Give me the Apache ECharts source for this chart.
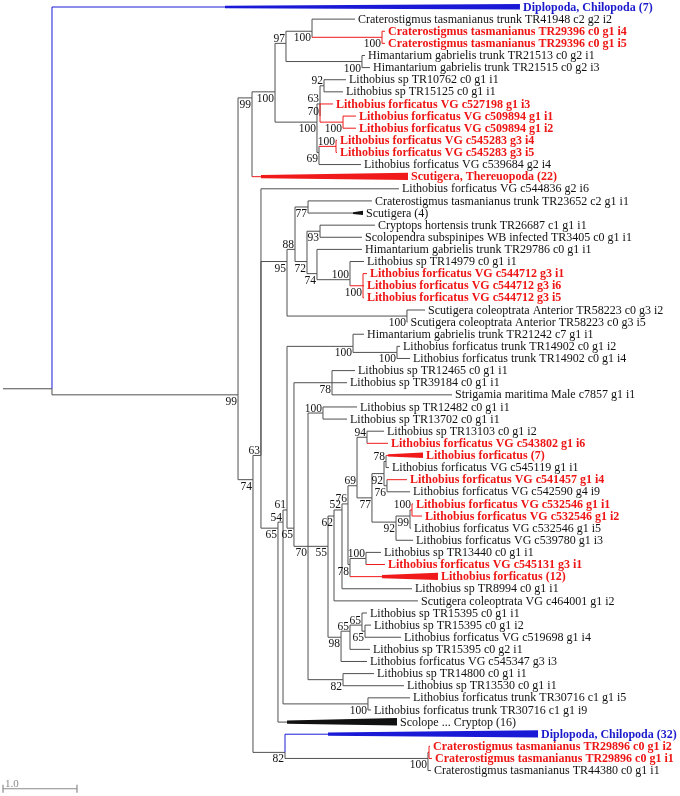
<!DOCTYPE html>
<html><head><meta charset="utf-8">
<script src="https://cdn.jsdelivr.net/npm/echarts@6/dist/echarts.min.js"></script>
<style>html,body{margin:0;padding:0;background:#fff}#c{width:680px;height:796px}</style>
</head><body><div id="c"></div>
<script>
// ---------------- DATA ----------------
const leafNames = [
'Diplopoda, Chilopoda (7)',
'Craterostigmus tasmanianus trunk TR41948 c2 g2 i2',
'Craterostigmus tasmanianus TR29396 c0 g1 i4',
'Craterostigmus tasmanianus TR29396 c0 g1 i5',
'Himantarium gabrielis trunk TR21513 c0 g2 i1',
'Himantarium gabrielis trunk TR21515 c0 g2 i3',
'Lithobius sp TR10762 c0 g1 i1',
'Lithobius sp TR15125 c0 g1 i1',
'Lithobius forficatus VG c527198 g1 i3',
'Lithobius forficatus VG c509894 g1 i1',
'Lithobius forficatus VG c509894 g1 i2',
'Lithobius forficatus VG c545283 g3 i4',
'Lithobius forficatus VG c545283 g3 i5',
'Lithobius forficatus VG c539684 g2 i4',
'Scutigera, Thereuopoda (22)',
'Lithobius forficatus VG c544836 g2 i6',
'Craterostigmus tasmanianus trunk TR23652 c2 g1 i1',
'Scutigera (4)',
'Cryptops hortensis trunk TR26687 c1 g1 i1',
'Scolopendra subspinipes WB infected TR3405 c0 g1 i1',
'Himantarium gabrielis trunk TR29786 c0 g1 i1',
'Lithobius sp TR14979 c0 g1 i1',
'Lithobius forficatus VG c544712 g3 i1',
'Lithobius forficatus VG c544712 g3 i6',
'Lithobius forficatus VG c544712 g3 i5',
'Scutigera coleoptrata Anterior TR58223 c0 g3 i2',
'Scutigera coleoptrata Anterior TR58223 c0 g3 i5',
'Himantarium gabrielis trunk TR21242 c7 g1 i1',
'Lithobius forficatus trunk TR14902 c0 g1 i2',
'Lithobius forficatus trunk TR14902 c0 g1 i4',
'Lithobius sp TR12465 c0 g1 i1',
'Lithobius sp TR39184 c0 g1 i1',
'Strigamia maritima Male c7857 g1 i1',
'Lithobius sp TR12482 c0 g1 i1',
'Lithobius sp TR13702 c0 g1 i1',
'Lithobius sp TR13103 c0 g1 i2',
'Lithobius forficatus VG c543802 g1 i6',
'Lithobius forficatus (7)',
'Lithobius forficatus VG c545119 g1 i1',
'Lithobius forficatus VG c541457 g1 i4',
'Lithobius forficatus VG c542590 g4 i9',
'Lithobius forficatus VG c532546 g1 i1',
'Lithobius forficatus VG c532546 g1 i2',
'Lithobius forficatus VG c532546 g1 i5',
'Lithobius forficatus VG c539780 g1 i3',
'Lithobius sp TR13440 c0 g1 i1',
'Lithobius forficatus VG c545131 g3 i1',
'Lithobius forficatus (12)',
'Lithobius sp TR8994 c0 g1 i1',
'Scutigera coleoptrata VG c464001 g1 i2',
'Lithobius sp TR15395 c0 g1 i1',
'Lithobius sp TR15395 c0 g1 i2',
'Lithobius forficatus VG c519698 g1 i4',
'Lithobius sp TR15395 c0 g2 i1',
'Lithobius forficatus VG c545347 g3 i3',
'Lithobius sp TR14800 c0 g1 i1',
'Lithobius sp TR13530 c0 g1 i1',
'Lithobius forficatus trunk TR30716 c1 g1 i5',
'Lithobius forficatus trunk TR30716 c1 g1 i9',
'Scolope ... Cryptop (16)',
'Diplopoda, Chilopoda (32)',
'Craterostigmus tasmanianus TR29896 c0 g1 i2',
'Craterostigmus tasmanianus TR29896 c0 g1 i1',
'Craterostigmus tasmanianus TR44380 c0 g1 i1'
];
// k = black, r = red (highlighted), b = blue (outgroup)
const leafGroup = ['b','k','r','r','k','k','k','k','r','r','r','r','r','k','r','k',
 'k','k','k','k','k','k','r','r','r','k','k','k','k','k','k','k',
 'k','k','k','k','r','r','k','r','k','r','r','k','k','k','r','r',
 'k','k','k','k','k','k','k','k','k','k','k','k','b','r','r','k'];
const leafParents = ['R','G','H','H','I','I','L','L','N70','N100a','N100a','N100b','N100b','N69','C','E',
 'N77','N77','N93','N93','N74','N100c','N100d','N100d','N100d','N100e','N100e','P','N100f','N100f','N78','N78',
 'N78','N100g','N100g','N94','N94','N78b','N78b','N76b','N76b','N100h','N100h','N99','N92b','N100i','N100i','N78c',
 'N52','N62','X','Y','Y','N65a','N98','N82b','N82b','N100j','N100j','S','N82','CrIn','CrIn','Cr'];
// tip depth (substitutions from the drawing origin)
const leafTipDepth = [6.986,4.757,5.162,5.162,4.892,4.959,4.635,4.595,4.459,4.770,4.770,4.514,4.514,4.838,5.473,5.351,
 4.986,4.865,5.027,4.851,4.851,4.878,4.919,4.878,4.878,5.703,5.466,4.878,5.365,5.500,4.757,4.649,
 6.068,4.784,4.649,5.149,5.203,5.676,5.216,5.459,5.500,5.541,5.662,5.514,5.541,5.108,5.162,5.878,
 5.527,5.608,4.919,4.973,5.378,4.959,4.919,5.014,5.419,5.500,4.973,5.324,7.230,5.770,5.797,5.784];
// crown depth of collapsed clades (null = single sequence)
const leafCrownDepth = leafNames.map(()=>null);
Object.assign(leafCrownDepth, {0:3.000, 14:3.486, 17:4.730, 37:5.203, 47:5.122, 59:3.838, 60:4.392});

const nodeNames   = ['R','B','C','J','N97','G','H','I','K','M','L','N70','N100a','N69','N100b',
 'D','E','N95','N88','N77','N72','N93','N74','N100c','N100d','N100e',
 'S','N54','N61','P','N100f','N65','N78','N70b','N100g','N55','N62','N52','N76','N69b','N94','N77b',
 'N92','N78b','N76b','N92b','N99','N100h','N78c','N100i','N98','N65a','X','Y','N82b','N100j','N82','Cr','CrIn'];
const nodeParents = [null,'R','B','C','J','N97','G','N97','J','K','M','M','N70','K','N69',
 'B','D','E','N95','N88','N88','N72','N72','N74','N100c','N95',
 'E','S','N54','N61','P','N61','N65','N65','N70b','N70b','N55','N62','N52','N76','N69b','N69b',
 'N77b','N92','N92','N77b','N92b','N99','N76','N78c','N55','N98','N65a','X','N70b','N54','D','N82','Cr'];
const nodeDepths  = [0.662,3.176,3.365,3.676,3.824,4.176,5.122,4.851,4.243,4.284,4.338,4.284,4.595,4.270,4.500,
 3.378,3.486,3.838,3.946,4.122,4.108,4.284,4.243,4.689,4.865,5.459,
 3.716,3.784,3.838,4.730,5.324,3.932,4.446,4.122,4.324,4.392,4.473,4.581,4.662,4.784,4.919,4.986,
 5.149,5.176,5.189,5.311,5.500,5.527,4.689,4.905,4.568,4.689,4.851,4.892,4.595,4.932,3.811,5.743,5.757];
const nodeSupport = [null,99,99,100,97,100,100,100,100,63,92,70,100,69,100,
 74,63,95,88,77,72,93,74,100,100,100,
 65,54,61,100,100,65,78,70,100,55,62,52,76,69,94,77,
 92,78,76,92,99,100,78,100,98,65,65,65,82,100,82,100,null];
// which side of the branch the support value is printed on (a = above, b = below)
const supportSide = ['','b','b','b','a','b','b','b','b','a','a','a','b','b','a',
 'b','a','b','a','b','b','b','b','a','b','b',
 'b','a','a','b','b','b','b','b','a','b','b','a','a','a','a','b',
 'b','a','b','b','b','a','b','a','b','a','a','b','b','b','b','b',''];
const scaleBarLength = 1.0;

// ---------------- TREE LAYOUT ----------------
const idx = {}; nodeNames.forEach((n,i)=>idx[n]=i);
const kids = nodeNames.map(()=>[]);
nodeParents.forEach((p,i)=>{ if(p) kids[idx[p]].push({t:'n',i}); });
leafParents.forEach((p,i)=>kids[idx[p]].push({t:'l',i}));
const nodeLeaves = new Array(nodeNames.length);
function collect(i){
  if(nodeLeaves[i]) return nodeLeaves[i];
  let a=[]; kids[i].forEach(k=>{ a = a.concat(k.t==='l' ? [k.i] : collect(k.i)); });
  return nodeLeaves[i]=a;
}
nodeNames.forEach((_,i)=>collect(i));
const nodeY = nodeLeaves.map(a=>a.reduce((s,v)=>s+v,0)/a.length);
const nodeGroup = nodeLeaves.map(a=>{ const s=new Set(a.map(i=>leafGroup[i])); return s.size===1?[...s][0]:'k'; });
const GI = {k:0,r:1,b:2};
const LINE = ['#505050','#f01a1a','#1a1ad6'];
const WEDGE = ['#111111','#f01a1a','#1a1ad6'];
const TEXT = ['#111','#ee1515','#1a1acc'];
// connector colour: outgroup (blue) colouring reaches the parent's connector, highlight (red) does not
const connColor = (childGroup,parentGroup)=> childGroup==='b' ? GI.b : GI[parentGroup];

const segs=[];
const r = idx['R'];
segs.push([0,nodeY[r],nodeDepths[r],nodeY[r],0]);
nodeNames.forEach((n,i)=>{
  const p=nodeParents[i]; if(!p) return;
  const pi=idx[p], c=GI[nodeGroup[i]];
  segs.push([nodeDepths[pi],nodeY[pi],nodeDepths[pi],nodeY[i],connColor(nodeGroup[i],nodeGroup[pi])]);
  segs.push([nodeDepths[pi],nodeY[i],nodeDepths[i],nodeY[i],c]);
});
const wedges=[];
leafParents.forEach((p,i)=>{
  const pi=idx[p], c=GI[leafGroup[i]];
  const crown=leafCrownDepth[i];
  const end = crown!=null ? crown : leafTipDepth[i];
  segs.push([nodeDepths[pi],nodeY[pi],nodeDepths[pi],i,connColor(leafGroup[i],nodeGroup[pi])]);
  segs.push([nodeDepths[pi],i,end,i,c]);
  if(crown!=null){
    const m = leafNames[i].match(/\((\d+)\)/);
    wedges.push([crown,leafTipDepth[i],i,m?+m[1]:4,c]);
  }
});
// draw coloured segments on top of grey ones
segs.sort((a,b)=>(a[4]>0)-(b[4]>0));
const leafLabels = leafNames.map((n,i)=>[leafTipDepth[i],i,i]);
const supLabels=[];
nodeNames.forEach((n,i)=>{ if(nodeSupport[i]!=null) supLabels.push([nodeDepths[i],nodeY[i],i]); });

const FONT = "'Liberation Serif','Times New Roman',serif";
const chart = echarts.init(document.getElementById('c'),null,{renderer:'canvas'});
const S = 12.12;
chart.setOption({
  animation:false,
  backgroundColor:'#fff',
  grid:{left:3,top:7-0.5*S,width:666,height:65.5*S},
  xAxis:{type:'value',min:0,max:9,show:false},
  yAxis:{type:'value',min:-0.5,max:65,inverse:true,show:false},
  series:[
    {type:'custom',silent:true,data:segs,renderItem:(p,api)=>{
      const a=api.coord([api.value(0),api.value(1)]), b=api.coord([api.value(2),api.value(3)]);
      return {type:'line',shape:{x1:a[0],y1:a[1],x2:b[0],y2:b[1]},style:{stroke:LINE[api.value(4)],lineWidth:1}};
    }},
    {type:'custom',silent:true,data:wedges,renderItem:(p,api)=>{
      const a=api.coord([api.value(0),api.value(2)]), b=api.coord([api.value(1),api.value(2)]);
      const hr=Math.min(4,1.2+0.25*api.value(3)), hl=hr*0.4;
      return {type:'polygon',shape:{points:[[a[0],a[1]-hl],[b[0],b[1]-hr],[b[0],b[1]+hr*0.85],[a[0],a[1]+hl]]},
        style:{fill:WEDGE[api.value(4)]}};
    }},
    {type:'custom',silent:true,data:leafLabels,renderItem:(p,api)=>{
      const i=api.value(2), a=api.coord([api.value(0),api.value(1)]);
      const g=leafGroup[i];
      return {type:'text',x:a[0]+3,y:a[1]+0.5,style:{text:leafNames[i],fill:TEXT[GI[g]],
        font:(g==='k'?'':'bold ')+'12px '+FONT,align:'left',verticalAlign:'middle'}};
    }},
    {type:'custom',silent:true,data:supLabels,renderItem:(p,api)=>{
      const i=api.value(2), a=api.coord([api.value(0),api.value(1)]);
      const above=supportSide[i]==='a';
      return {type:'text',x:a[0]-1,y:a[1]+(above?-4.5:7),style:{text:String(nodeSupport[i]),fill:'#111',
        font:'11.5px '+FONT,align:'right',verticalAlign:'middle'}};
    }},
    {type:'custom',silent:true,data:[[0,64.5,scaleBarLength]],renderItem:(p,api)=>{
      const a=api.coord([api.value(0),api.value(1)]), b=api.coord([api.value(0)+api.value(2),api.value(1)]);
      const st={stroke:'#8a8a8a',lineWidth:1.2};
      return {type:'group',children:[
        {type:'line',shape:{x1:a[0],y1:a[1],x2:b[0],y2:b[1]},style:st},
        {type:'line',shape:{x1:a[0],y1:a[1]-4,x2:a[0],y2:a[1]+4},style:st},
        {type:'line',shape:{x1:b[0],y1:b[1]-4,x2:b[0],y2:b[1]+4},style:st},
        {type:'text',x:a[0]+2,y:a[1]-5,style:{text:scaleBarLength.toFixed(1),fill:'#8a8a8a',font:'11px '+FONT,align:'left',verticalAlign:'middle'}}
      ]};
    }}
  ]
});
</script></body></html>
